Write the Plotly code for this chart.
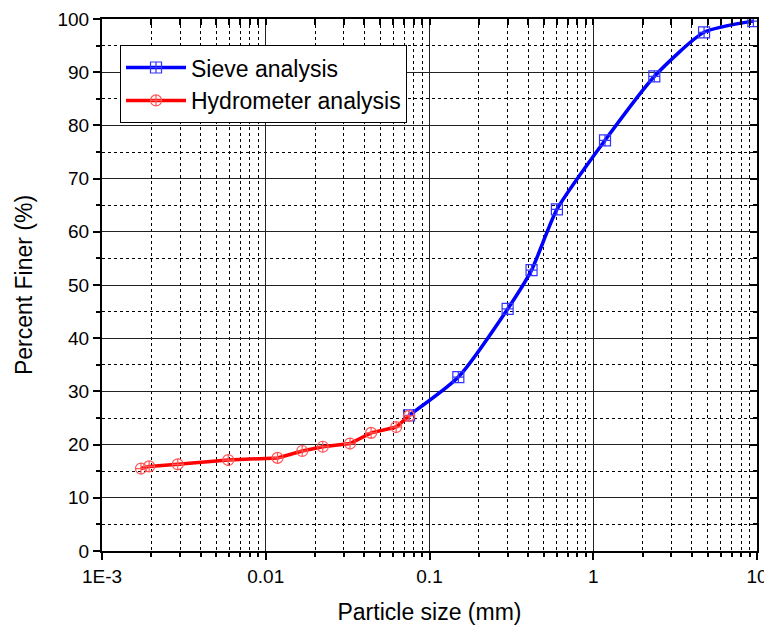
import plotly.graph_objects as go

# Sieve analysis data
sieve_size = [9.5, 4.75, 2.36, 1.18, 0.6, 0.42, 0.3, 0.15, 0.075]
sieve_finer = [99.6, 97.5, 89.2, 77.2, 64.2, 52.8, 45.5, 32.7, 25.5]

# Hydrometer analysis data
hydro_size = [0.075, 0.0626, 0.044, 0.0327, 0.0223, 0.0167, 0.0118, 0.0059, 0.0029, 0.00194, 0.00173]
hydro_finer = [25.4, 23.3, 22.2, 20.2, 19.6, 18.8, 17.5, 17.1, 16.3, 15.9, 15.5]

x_tickvals = [0.001, 0.01, 0.1, 1, 10]
x_ticktext = ["1E-3", "0.01", "0.1", "1", "10"]
y_tickvals = list(range(0, 101, 10))

FONT = "Liberation Sans, Arial, sans-serif"

fig = go.Figure()
fig.add_trace(go.Scatter(
    x=sieve_size, y=sieve_finer, name="Sieve analysis",
    mode="lines+markers",
    line=dict(color="#0000ff", width=3.5, shape="spline", smoothing=0.6),
    marker=dict(symbol="square-cross-open", size=11, color="#3333ff", line=dict(width=1.2)),
))
fig.add_trace(go.Scatter(
    x=hydro_size, y=hydro_finer, name="Hydrometer analysis",
    mode="lines+markers",
    line=dict(color="#ff0000", width=3.5),
    marker=dict(symbol="circle-cross-open", size=11, color="#ff5555", line=dict(width=1.2)),
))

fig.update_layout(
    width=764, height=626,
    margin=dict(l=94, r=15, t=11, b=83, autoexpand=False),
    paper_bgcolor="white", plot_bgcolor="white",
    font=dict(family=FONT, size=19, color="black"),
    showlegend=True,
    legend=dict(
        x=0.0275, y=0.951, xanchor="left", yanchor="top",
        bgcolor="white", bordercolor="black", borderwidth=1,
        font=dict(family=FONT, size=23, color="black"),
        itemwidth=60, tracegroupgap=0,
    ),
    xaxis=dict(
        type="log", range=[-3, 1], automargin=False,
        tickvals=x_tickvals, ticktext=x_ticktext,
        ticks="outside", ticklen=7, tickwidth=1.5, tickcolor="black",
        showline=True, linecolor="black", linewidth=2, mirror=True,
        showgrid=True, gridcolor="#222222", gridwidth=1,
        zeroline=False,
        title=dict(text="Particle size (mm)", font=dict(size=23), standoff=18),
        minor=dict(dtick="D1", ticks="outside", ticklen=4, tickcolor="black",
                   showgrid=True, gridcolor="black", griddash="dot", gridwidth=1),
    ),
    yaxis=dict(
        range=[0, 100], tickvals=y_tickvals, automargin=False,
        ticks="outside", ticklen=7, tickwidth=1.5, tickcolor="black",
        showline=True, linecolor="black", linewidth=2, mirror=True,
        showgrid=True, gridcolor="#222222", gridwidth=1,
        zeroline=False,
        title=dict(text="Percent Finer (%)", font=dict(size=23), standoff=18),
        minor=dict(dtick=5, ticks="outside", ticklen=4, tickcolor="black",
                   showgrid=True, gridcolor="black", griddash="dot", gridwidth=1),
    ),
    xaxis2=dict(
        type="log", range=[-3, 1], overlaying="x", side="top", matches="x",
        automargin=False,
        tickvals=x_tickvals, showticklabels=False,
        ticks="inside", ticklen=6, tickwidth=1.5, tickcolor="black",
        showgrid=False, zeroline=False, showline=False,
        minor=dict(dtick="D1", ticks="inside", ticklen=6, tickcolor="black", showgrid=False),
    ),
    yaxis2=dict(
        range=[0, 100], overlaying="y", side="right", matches="y",
        automargin=False,
        tickvals=y_tickvals, showticklabels=False,
        ticks="inside", ticklen=7, tickwidth=1.5, tickcolor="black",
        showgrid=False, zeroline=False, showline=False,
        minor=dict(dtick=5, ticks="inside", ticklen=4, tickcolor="black", showgrid=False),
    ),
)

fig.add_trace(go.Scatter(x=[0.001], y=[0], xaxis="x2", yaxis="y2",
                         mode="markers", marker=dict(opacity=0),
                         showlegend=False, hoverinfo="skip"))

fig.write_html("out.html")
